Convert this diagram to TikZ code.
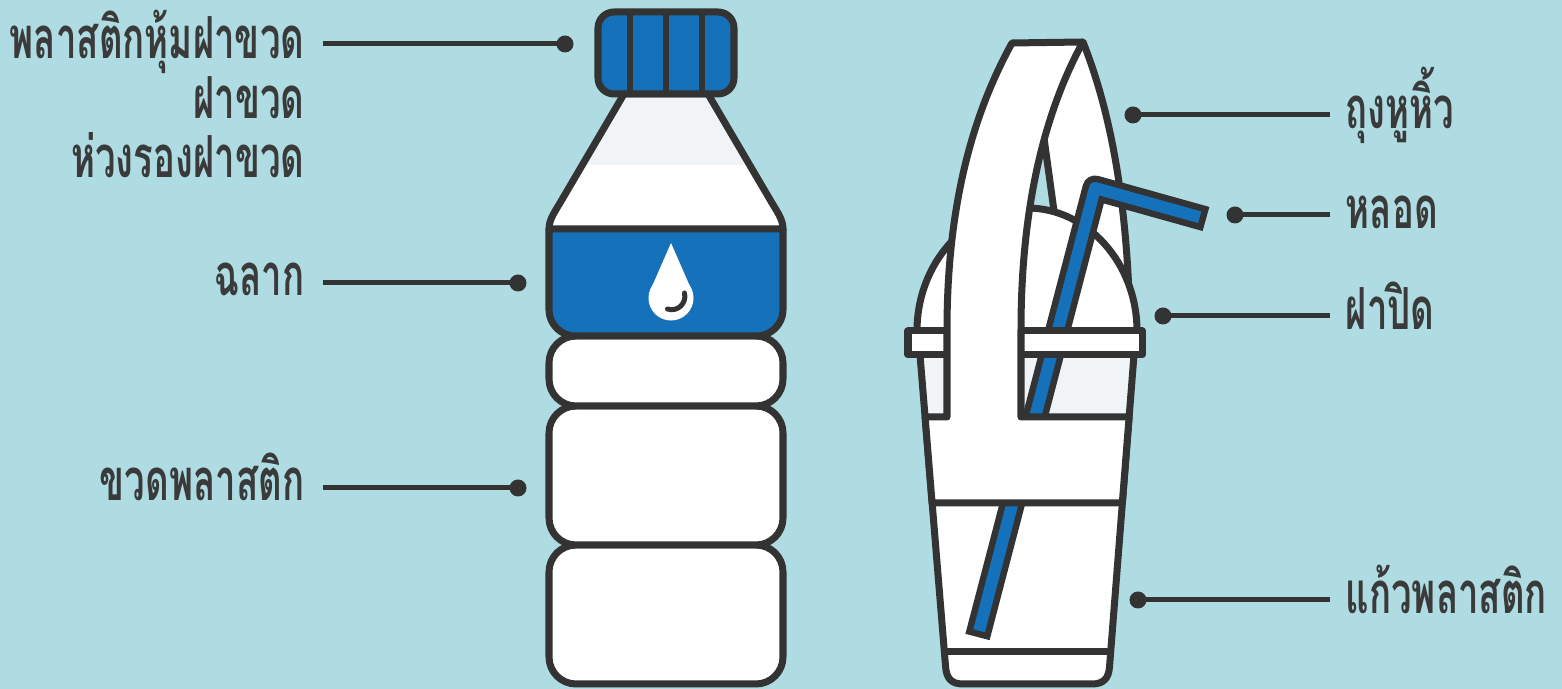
\documentclass[tikz,border=0pt]{standalone}
\usepackage{fontspec}
\usepackage{graphicx}
\newfontfamily\thaifont[Script=Thai]{Loma}
\definecolor{bgblue}{HTML}{AEDCE2}
\definecolor{ink}{HTML}{333333}
\definecolor{partblue}{HTML}{1571BA}
\definecolor{palegrey}{HTML}{F1F4F6}
\definecolor{txt}{HTML}{3A3A3A}
\newcommand\narrow[1]{\scalebox{0.63}[1]{#1}}
\begin{document}
\begin{tikzpicture}[x=0.01cm,y=-0.01cm,
  part/.style={draw=ink,line width=0.07cm,line join=round,fill=white},
  edge/.style={draw=ink,line width=0.07cm,line join=round},
  leader/.style={draw=ink,line width=0.05cm},
  pin/.style={circle,fill=ink,inner sep=0pt,minimum size=0.17cm},
  lbl/.style={text=txt,font=\thaifont\bfseries\fontsize{16.5}{20}\selectfont,inner sep=0pt}]
\useasboundingbox (0,0) rectangle (1562,689);
\fill[bgblue] (0,0) rectangle (1562,689);

% ---------- bottle ----------
% body sections
\draw[part,rounded corners=0.27cm] (549,545) rectangle (783,684);
\draw[part,rounded corners=0.27cm] (549,406) rectangle (783,545);
\draw[part,rounded corners=0.27cm] (549,336) rectangle (783,406);
% neck with pale upper half
\begin{scope}
  \clip (624,94) -- (560,203) .. controls (552,216) and (549,221) .. (549,230)
        -- (783,230) .. controls (783,221) and (780,216) .. (772,203) -- (708,94) -- cycle;
  \fill[white] (540,90) rectangle (790,235);
  \fill[palegrey] (540,90) rectangle (790,165);
\end{scope}
\draw[edge] (624,94) -- (560,203) .. controls (552,216) and (549,221) .. (549,230)
        -- (783,230) .. controls (783,221) and (780,216) .. (772,203) -- (708,94) -- cycle;
% label band
\draw[part,fill=partblue] (549,229) -- (549,310) .. controls (549,324) and (561,336) .. (575,336)
   -- (757,336) .. controls (771,336) and (783,324) .. (783,310) -- (783,229) -- cycle;
% water drop
\fill[white] (671,243) -- (691.2,289.2) -- (650.8,289.2) -- cycle;
\fill[white] (671,298) circle[radius=0.225cm];
\draw[ink,line width=0.05cm,line cap=round] (667.5,309) .. controls (677.3,312.4) and (687,303.4) .. (684.5,293);
% cap
\draw[part,fill=partblue,rounded corners=0.16cm] (598,12) rectangle (734,94);
\foreach \x in {630,666,702} \draw[ink,line width=0.06cm] (\x,12) -- (\x,94);

% ---------- cup ----------
% back of the carrier loop
\fill[white] (1083,42) .. controls (1110,110) and (1128,200) .. (1130,330) -- (1060,330)
   -- (1057,215) -- (1045,142) -- (1030,142) -- (1030,42) -- cycle;
\draw[edge] (1083,42) .. controls (1110,110) and (1128,200) .. (1130,330);
\draw[edge] (1044,138) -- (1058,240);
% dome lid
\draw[part] (917,331) .. controls (917,263.6) and (966.2,208) .. (1027,208)
   .. controls (1087.8,208) and (1137,263.6) .. (1137,331) -- cycle;
% cup body
\fill[white] (920,355) -- (945.6,667) .. controls (946.5,678) and (951,684) .. (963,684)
   -- (1092,684) .. controls (1104,684) and (1108.6,678) .. (1109.5,667) -- (1134,355) -- cycle;
\fill[palegrey] (920,355) -- (925.1,417) -- (1129.1,417) -- (1134,355) -- cycle;
\draw[edge] (920,355) -- (945.6,667) .. controls (946.5,678) and (951,684) .. (963,684)
   -- (1092,684) .. controls (1104,684) and (1108.6,678) .. (1109.5,667) -- (1134,355);
\draw[edge] (944.4,652) -- (1110.6,652);
% straw
\draw[ink,line width=0.25cm,line join=round] (977.5,637) -- (1095,188) -- (1206,219);
\draw[partblue,line width=0.12cm,line join=round,shorten <=0.065cm,shorten >=0.065cm]
   (977.5,637) -- (1095,188) -- (1206,219);
% lid rim
\draw[part] (908,331) rectangle (1142,355);
% carrier bag: front strap and sleeve
\draw[part] (925.1,417) -- (947,417) -- (947,330) .. controls (947,200) and (975,110) .. (1012,43)
   -- (1083,42) .. controls (1040,120) and (1021,220) .. (1021,330) -- (1021,417)
   -- (1129.1,417) -- (1122.3,503) -- (932.1,503) -- cycle;

% ---------- labels ----------
\node[lbl,anchor=base east] (tcapwrap) at (305,59) {\narrow{พลาสติกหุ้มฝาขวด}};
\node[lbl,anchor=base east] (tcap) at (305,119) {\narrow{ฝาขวด}};
\node[lbl,anchor=base east] (tring) at (305,178) {\narrow{ห่วงรองฝาขวด}};
\node[lbl,anchor=base east] (tlabel) at (305,296) {\narrow{ฉลาก}};
\node[lbl,anchor=base east] (tbottle) at (305,501) {\narrow{ขวดพลาสติก}};
\node[lbl,anchor=base west] (tbag) at (1345,129) {\narrow{ถุงหูหิ้ว}};
\node[lbl,anchor=base west] (tstraw) at (1345,229) {\narrow{หลอด}};
\node[lbl,anchor=base west] (tlid) at (1345,330) {\narrow{ฝาปิด}};
\node[lbl,anchor=base west] (tcup) at (1345,614) {\narrow{แก้วพลาสติก}};

\node[pin] (pcapwrap) at (565,44) {};
\node[pin] (plabel) at (518,283) {};
\node[pin] (pbottle) at (518,488) {};
\node[pin] (pbag) at (1133,115) {};
\node[pin] (pstraw) at (1235,215) {};
\node[pin] (plid) at (1163,316) {};
\node[pin] (pcup) at (1138,600) {};

\coordinate (ecapwrap) at (323,44);
\coordinate (elabel) at (323,283);
\coordinate (ebottle) at (323,488);
\coordinate (ebag) at (1330,115);
\coordinate (estraw) at (1330,215);
\coordinate (elid) at (1330,316);
\coordinate (ecup) at (1330,600);

\draw[leader] (ecapwrap) -- (pcapwrap.center);
\draw[leader] (elabel) -- (plabel.center);
\draw[leader] (ebottle) -- (pbottle.center);
\draw[leader] (pbag.center) -- (ebag);
\draw[leader] (pstraw.center) -- (estraw);
\draw[leader] (plid.center) -- (elid);
\draw[leader] (pcup.center) -- (ecup);
\end{tikzpicture}
\end{document}
